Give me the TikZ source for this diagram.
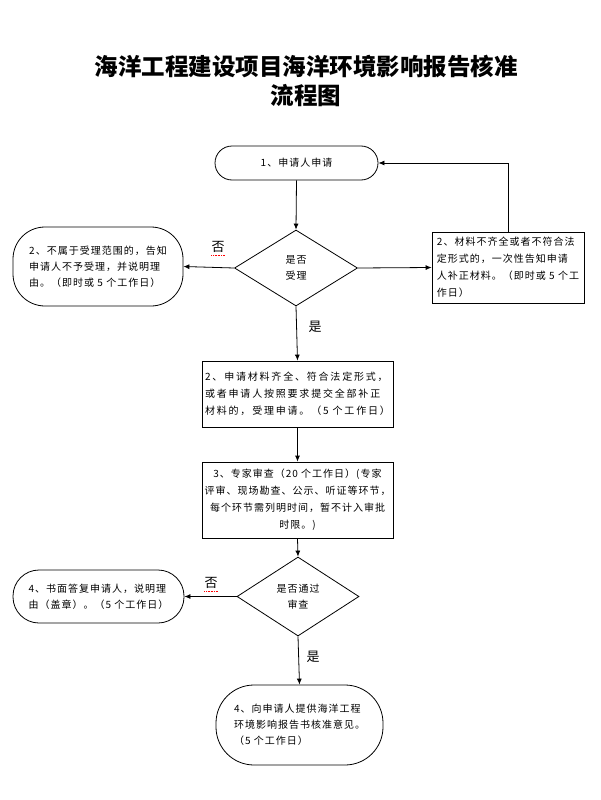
\documentclass[tikz,border=0pt]{standalone}
\usepackage{fontspec}
\usetikzlibrary{shapes.geometric,arrows.meta}
\newfontfamily\cjk[LetterSpace=10]{Noto Sans CJK SC}
\newfontfamily\cjkwide[LetterSpace=18]{Noto Sans CJK SC}
\newfontfamily\cjkplain{Noto Sans CJK SC}
\begin{document}
\begin{tikzpicture}[x=1pt,y=-1pt,
  every node/.style={inner sep=0pt},
  box/.style={draw, line width=0.8pt, align=left, font=\cjk\fontsize{10}{17}\selectfont},
  dia/.style={draw, line width=0.8pt, diamond, aspect=1.6, align=center, font=\cjk\fontsize{10}{15.5}\selectfont},
  arr/.style={-{Latex[length=6pt,width=5pt]}, line width=0.8pt},
  lbl/.style={font=\cjkplain\fontsize{13}{13}\selectfont},
  ttl/.style={font=\cjkplain\bfseries\fontsize{23.5}{29}\selectfont, align=center}]
\useasboundingbox (0,0) rectangle (600,800);
\node[ttl] (title) at (306,81) {海洋工程建设项目海洋环境影响报告核准\\流程图};
\node[box, align=center, minimum width=163pt, minimum height=34pt, rounded corners=17pt] (n1) at (296.5,163) {1、申请人申请};
\node[dia, minimum width=123pt, minimum height=76pt] (d1) at (296,268) {是否\\受理};
\node[box, minimum width=170pt, minimum height=79pt, rounded corners=32pt, font=\cjk\fontsize{10}{16}\selectfont] (l1) at (98,266.5) {2、不属于受理范围的，告知\\申请人不予受理，并说明理\\由。（即时或 5 个工作日）};
\node[box, minimum width=152pt, minimum height=71pt] (r1) at (508,267.5) {2、材料不齐全或者不符合法\\定形式的，一次性告知申请\\人补正材料。（即时或 5 个工\\作日）};
\node[box, minimum width=191pt, minimum height=66pt, font=\cjkwide\fontsize{10}{17}\selectfont] (b2) at (297.5,394) {2、申请材料齐全、符合法定形式，\\或者申请人按照要求提交全部补正\\材料的，受理申请。（5 个工作日）};
\node[box, align=center, minimum width=191pt, minimum height=76pt] (b3) at (297.5,500) {3、专家审查（20 个工作日）(专家\\评审、现场勘查、公示、听证等环节，\\每个环节需列明时间，暂不计入审批\\时限。)};
\node[dia, minimum width=122pt, minimum height=79pt] (d2) at (298,596.5) {是否通过\\审查};
\node[box, minimum width=171pt, minimum height=53pt, rounded corners=26pt, font=\cjk\fontsize{10}{16}\selectfont] (l2) at (98.5,596.5) {4、书面答复申请人，说明理\\由（盖章）。（5 个工作日）};
\node[box, minimum width=167pt, minimum height=80pt, rounded corners=38pt, font=\cjk\fontsize{10}{16}\selectfont] (b4) at (299.5,725) {4、向申请人提供海洋工程\\环境影响报告书核准意见。\\（5 个工作日）};
\draw[arr] (n1.south) -- (d1.north);
\draw[arr] (d1.west) -- (l1.east);
\draw[arr] (d1.east) -- (r1.west);
\draw[arr] (r1.north) |- (n1.east);
\draw[arr] (d1.south) -- (b2.north);
\draw[arr] (b2.south) -- (b3.north);
\draw[arr] (b3.south) -- (d2.north);
\draw[arr] (d2.west) -- (l2.east);
\draw[arr] (d2.south) -- (b4.north);
\node[lbl] (no1) at (218,247) {否};
\node[lbl] (yes1) at (315,327) {是};
\node[lbl] (no2) at (211,583) {否};
\node[lbl] (yes2) at (313,657) {是};
\draw[red, densely dotted, line width=0.6pt] ([yshift=-2pt]no1.south west) -- ([yshift=-2pt]no1.south east);
\draw[red, densely dotted, line width=0.6pt] ([yshift=-2pt]no2.south west) -- ([yshift=-2pt]no2.south east);
\end{tikzpicture}
\end{document}
